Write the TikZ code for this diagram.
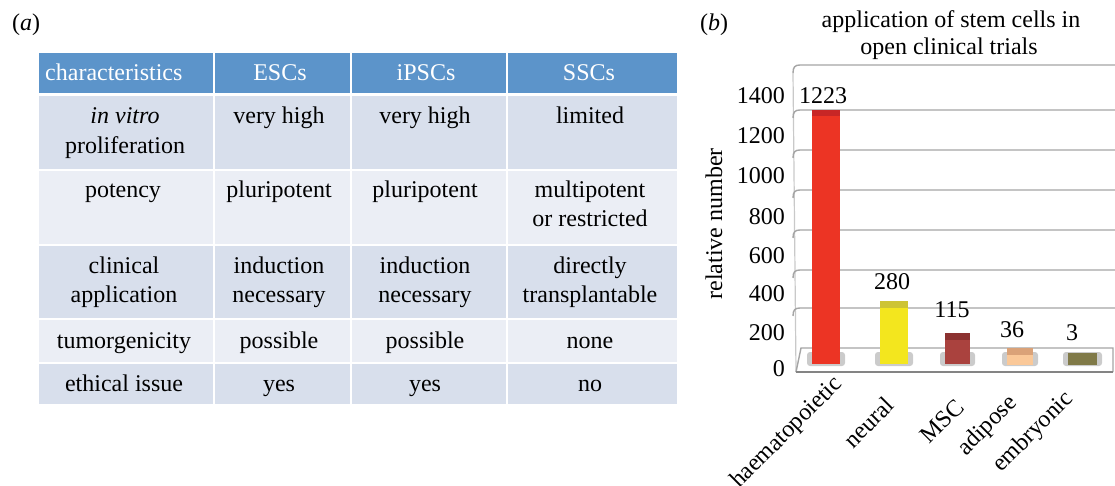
\documentclass[tikz,border=0pt]{standalone}
\usepackage{fontspec}
\setmainfont{Liberation Serif}
\definecolor{hdr}{RGB}{92,148,202}
\definecolor{rowd}{RGB}{216,223,236}
\definecolor{rowl}{RGB}{235,238,245}
\definecolor{gridc}{RGB}{165,165,165}
\definecolor{barred}{RGB}{236,52,36}
\definecolor{barredcap}{RGB}{200,38,38}
\definecolor{baryel}{RGB}{243,230,30}
\definecolor{baryelcap}{RGB}{205,196,52}
\definecolor{barmsc}{RGB}{170,66,62}
\definecolor{barmsccap}{RGB}{140,50,48}
\definecolor{baradi}{RGB}{250,200,152}
\definecolor{baradicap}{RGB}{218,162,120}
\definecolor{baremb}{RGB}{128,122,72}
\begin{document}
\begin{tikzpicture}[x=1pt,y=-1pt,
  txt/.style={anchor=base,inner sep=0pt,font=\fontsize{24}{29}\selectfont},
  htxt/.style={txt,text=white},
  grid/.style={draw=gridc,line width=1.4pt},
  wall/.style={draw=gridc!60,line width=1.2pt},
  shadow/.style={fill=black!45,opacity=0.45,rounded corners=3pt},
  cat/.style={anchor=east,rotate=45,inner sep=0pt,font=\fontsize{24}{29}\selectfont},
  ylab/.style={anchor=base east,inner sep=0pt,font=\fontsize{24}{29}\selectfont}]
\useasboundingbox (0,0) rectangle (1115,485);
% ---------- (a) table ----------
\node[txt,anchor=base west] (la) at (12,30) {(\textit{a})};
\foreach \ya/\yb/\c in {53/93/hdr,96/169/rowd,171/244/rowl,246/318/rowd,320/362/rowl,364/404/rowd}
  \foreach \xa/\xb in {39/213,215/350,352/506,508/677}
    \fill[\c] (\xa,\ya) rectangle (\xb,\yb);
\node[htxt,anchor=base west] (h1) at (45,80) {characteristics};
\node[htxt] (h2) at (280,80) {ESCs};
\node[htxt] (h3) at (426,80) {iPSCs};
\node[htxt] (h4) at (589,80) {SSCs};
\node[txt] (r1a) at (125,123) {\textit{in vitro}};
\node[txt] (r1b) at (125,153) {proliferation};
\node[txt] (r1c) at (279,123) {very high};
\node[txt] (r1d) at (425,123) {very high};
\node[txt] (r1e) at (590,123) {limited};
\node[txt] (r2a) at (123,197) {potency};
\node[txt] (r2c) at (279,197) {pluripotent};
\node[txt] (r2d) at (425,197) {pluripotent};
\node[txt] (r2e) at (590,197) {multipotent};
\node[txt] (r2f) at (590,226) {or restricted};
\node[txt] (r3a) at (124,273) {clinical};
\node[txt] (r3b) at (124,302) {application};
\node[txt] (r3c) at (279,273) {induction};
\node[txt] (r3d) at (279,302) {necessary};
\node[txt] (r3e) at (425,273) {induction};
\node[txt] (r3f) at (425,302) {necessary};
\node[txt] (r3g) at (590,273) {directly};
\node[txt] (r3h) at (590,302) {transplantable};
\node[txt] (r4a) at (124,348) {tumorgenicity};
\node[txt] (r4c) at (279,348) {possible};
\node[txt] (r4d) at (425,348) {possible};
\node[txt] (r4e) at (590,348) {none};
\node[txt] (r5a) at (124,391) {ethical issue};
\node[txt] (r5c) at (279,391) {yes};
\node[txt] (r5d) at (425,391) {yes};
\node[txt] (r5e) at (590,391) {no};
% ---------- (b) chart ----------
\node[txt,anchor=base west] (lb) at (700,30) {(\textit{b})};
\node[txt] (t1) at (951,27) {application of stem cells in};
\node[txt] (t2) at (949,54) {open clinical trials};
\node[txt,rotate=90,anchor=center] (yt) at (714,224) {relative number};
% walls and grid
\draw[wall] (793,73) -- (796,372);
\foreach \y in {65,110,150,190,230,270,308}
  \draw[grid] (793,\y+8) .. controls (793,\y+2) and (795,\y) .. (800,\y) -- (1115,\y);
\draw[grid] (796,372) -- (801,348) -- (1113,348) -- (1113,372);
\draw[draw=gridc!80!black,line width=1.4pt] (796,372) -- (1113,372);
% bar shadows
\foreach \xa/\xb in {812/840,880/908,945/970,1007/1033,1068/1097}
  \fill[shadow] (\xa-5,352) rectangle (\xb+5,366);
% bars
\fill[barred] (812,116) rectangle (840,364);
\fill[barredcap] (812,110) rectangle (840,116);
\fill[baryel] (880,308) rectangle (908,364);
\fill[baryelcap] (880,301) rectangle (908,308);
\fill[barmsc] (945,340) rectangle (970,364);
\fill[barmsccap] (945,333) rectangle (970,340);
\fill[baradi] (1007,355) rectangle (1033,365);
\fill[baradicap] (1007,348) rectangle (1033,355);
\fill[baremb] (1068,353) rectangle (1097,365);
% value labels
\node[txt] (v1) at (823,103) {1223};
\node[txt] (v2) at (892,289) {280};
\node[txt] (v3) at (952,317) {115};
\node[txt] (v4) at (1012,337) {36};
\node[txt] (v5) at (1072,340) {3};
% y tick labels
\node[ylab] (y14) at (785,103) {1400};
\node[ylab] (y12) at (785,143) {1200};
\node[ylab] (y10) at (785,183) {1000};
\node[ylab] (y8) at (785,224) {800};
\node[ylab] (y6) at (785,263) {600};
\node[ylab] (y4) at (785,301) {400};
\node[ylab] (y2) at (785,340) {200};
\node[ylab] (y0) at (785,376) {0};
% category labels
\node[cat] (c1) at (839,381) {haematopoietic};
\node[cat] (c2) at (890,401) {neural};
\node[cat] (c3) at (960,403) {MSC};
\node[cat] (c4) at (1014,400) {adipose};
\node[cat] (c5) at (1070,396) {embryonic};
\end{tikzpicture}
\end{document}
